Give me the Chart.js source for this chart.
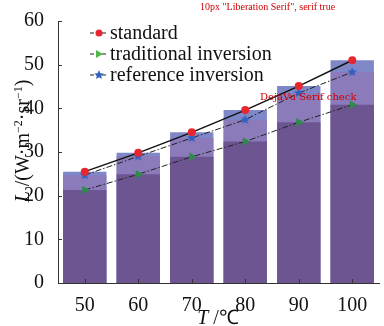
<!DOCTYPE html>
<html>
<head>
<meta charset="utf-8">
<script src="https://cdn.jsdelivr.net/npm/chart.js@4.4.1/dist/chart.umd.min.js"></script>
</head>
<body style="margin:0">
<canvas id="lumChart" width="384" height="326"></canvas>
<script>
// values
const temps = ["50", "60", "70", "80", "90", "100"];
const standard = [25.5, 29.8, 34.5, 39.6, 45.1, 51.0];
const traditional = [21.3, 24.9, 28.9, 32.4, 36.8, 40.8];
const reference = [24.7, 29.0, 33.2, 37.4, 43.5, 48.3];
const yTicks = [0, 10, 20, 30, 40, 50, 60];

const SERIF = "'Liberation Serif', serif";

// filled star marker for the reference series
function makeStar(color, r) {
    const c = document.createElement('canvas');
    c.width = c.height = r * 2 + 2;
    const s = c.getContext('2d');
    s.translate(r + 1, r + 1);
    s.beginPath();
    for (let i = 0; i < 10; i++) {
        const rad = i % 2 === 0 ? r : r * 0.45;
        const a = -Math.PI / 2 + i * Math.PI / 5;
        s.lineTo(rad * Math.cos(a), rad * Math.sin(a));
    }
    s.closePath();
    s.fillStyle = color;
    s.fill();
    return c;
}
const starImg = makeStar('#2f5fc0', 5);

// legend drawn by hand: dashed stub + marker + label
const legendPlugin = {
    id: 'stubLegend',
    afterDraw(chart) {
        const g = chart.ctx;
        const rows = [
            { ds: 3, y: 33, text: 'standard' },
            { ds: 4, y: 54, text: 'traditional inversion' },
            { ds: 5, y: 75, text: 'reference inversion' }
        ];
        rows.forEach(r => {
            g.save();
            g.strokeStyle = '#222';
            g.lineWidth = 1.2;
            g.setLineDash([4, 2]);
            g.beginPath();
            g.moveTo(90, r.y);
            g.lineTo(108, r.y);
            g.stroke();
            g.setLineDash([]);
            const x = 99;
            if (r.ds === 3) {
                g.fillStyle = '#e8262e';
                g.beginPath();
                g.arc(x, r.y, 3.5, 0, Math.PI * 2);
                g.fill();
            } else if (r.ds === 4) {
                g.fillStyle = '#4fb847';
                g.beginPath();
                g.moveTo(x - 3, r.y - 4);
                g.lineTo(x + 4, r.y);
                g.lineTo(x - 3, r.y + 4);
                g.closePath();
                g.fill();
            } else {
                g.drawImage(starImg, x - 6, r.y - 6);
            }
            g.fillStyle = '#111';
            g.font = '20px ' + SERIF;
            g.fillText(r.text, 110, r.y + 6);
            g.restore();
        });
        // temporary font check
        g.save();
        g.font = '10px ' + SERIF;
        g.fillStyle = '#c00';
        g.fillText(g.font + ' ' + document.fonts.check('10px "Liberation Serif"'), 200, 10);
        g.font = "10px 'DejaVu Serif'";
        g.fillText('DejaVu Serif check', 260, 100);
        g.restore();
    }
};

// axis titles with italic symbols and superscripts, plus inward ticks
const axisPlugin = {
    id: 'axisDecor',
    afterDraw(chart) {
        const g = chart.ctx;
        const { left, bottom } = chart.chartArea;
        const xs = chart.scales.x, ys = chart.scales.y;
        g.save();
        g.strokeStyle = '#333';
        g.lineWidth = 1;
        yTicks.forEach(v => {
            const py = Math.round(ys.getPixelForValue(v)) + 0.5;
            g.beginPath(); g.moveTo(left, py); g.lineTo(left + 4, py); g.stroke();
        });
        temps.forEach((t, i) => {
            const px = Math.round(xs.getPixelForValue(i)) + 0.5;
            g.beginPath(); g.moveTo(px, bottom); g.lineTo(px, bottom - 4); g.stroke();
        });
        g.restore();

        // y title, rotated
        const parts = [
            { t: 'L', f: 'italic 20px ' + SERIF, dy: 0 },
            { t: ' /(W\u00b7m', f: '20px ' + SERIF, dy: 0 },
            { t: '\u22122', f: '12px ' + SERIF, dy: -7 },
            { t: '\u00b7sr', f: '20px ' + SERIF, dy: 0 },
            { t: '\u22121', f: '12px ' + SERIF, dy: -7 },
            { t: ')', f: '20px ' + SERIF, dy: 0 }
        ];
        g.save();
        let total = 0;
        parts.forEach(p => { g.font = p.f; total += g.measureText(p.t).width; });
        g.translate(29, 141);
        g.rotate(-Math.PI / 2);
        g.fillStyle = '#111';
        let x = -total / 2;
        parts.forEach(p => {
            g.font = p.f;
            g.fillText(p.t, x, p.dy);
            x += g.measureText(p.t).width;
        });
        g.restore();

        // x title
        g.save();
        g.fillStyle = '#111';
        const xp = [
            { t: 'T', f: 'italic 20px ' + SERIF },
            { t: ' /\u2103', f: '20px ' + SERIF }
        ];
        let w = 0;
        xp.forEach(p => { g.font = p.f; w += g.measureText(p.t).width; });
        let cx = 218 - w / 2;
        xp.forEach(p => {
            g.font = p.f;
            g.fillText(p.t, cx, 324);
            cx += g.measureText(p.t).width;
        });
        g.restore();
    }
};

const ctx = document.getElementById('lumChart').getContext('2d');
const lumChart = new Chart(ctx, {
    type: 'bar',
    data: {
        labels: temps,
        datasets: [
            {
                data: standard, backgroundColor: '#7e88c9',
                grouped: false, order: 3, barPercentage: 0.81, categoryPercentage: 1
            },
            {
                data: reference, backgroundColor: '#8b7bba',
                grouped: false, order: 2, barPercentage: 0.81, categoryPercentage: 1
            },
            {
                data: traditional, backgroundColor: '#6c5590',
                grouped: false, order: 1, barPercentage: 0.81, categoryPercentage: 1
            },
            {
                type: 'line', label: 'standard', data: standard, order: 0,
                borderColor: '#111', borderWidth: 1.5,
                pointStyle: 'circle', pointRadius: 4, pointBackgroundColor: '#e8262e',
                pointBorderWidth: 0
            },
            {
                type: 'line', label: 'traditional inversion', data: traditional, order: 0,
                borderColor: '#222', borderWidth: 1, borderDash: [6, 2, 1.5, 2],
                pointStyle: 'triangle', rotation: 90, pointRadius: 5,
                pointBackgroundColor: '#2e8b4a', pointBorderWidth: 0
            },
            {
                type: 'line', label: 'reference inversion', data: reference, order: 0,
                borderColor: '#222', borderWidth: 1, borderDash: [6, 2, 1.5, 2],
                pointStyle: starImg
            }
        ]
    },
    options: {
        responsive: false,
        animation: false,
        layout: { padding: { top: 21, right: 1, left: 0, bottom: 0 } },
        plugins: { legend: { display: false }, tooltip: { enabled: false } },
        scales: {
            x: {
                offset: true,
                grid: { display: false },
                border: { display: true, color: '#333', width: 1 },
                ticks: { color: '#111', font: { family: SERIF, size: 20 }, padding: 3 },
                afterFit: s => { s.height = 43; }
            },
            y: {
                min: 0, max: 60,
                grid: { display: false },
                border: { display: true, color: '#333', width: 1 },
                ticks: { stepSize: 10, color: '#111', font: { family: SERIF, size: 20 }, padding: 6 },
                afterFit: s => { s.width = 58; }
            }
        }
    },
    plugins: [legendPlugin, axisPlugin]
});
</script>
</body>
</html>
